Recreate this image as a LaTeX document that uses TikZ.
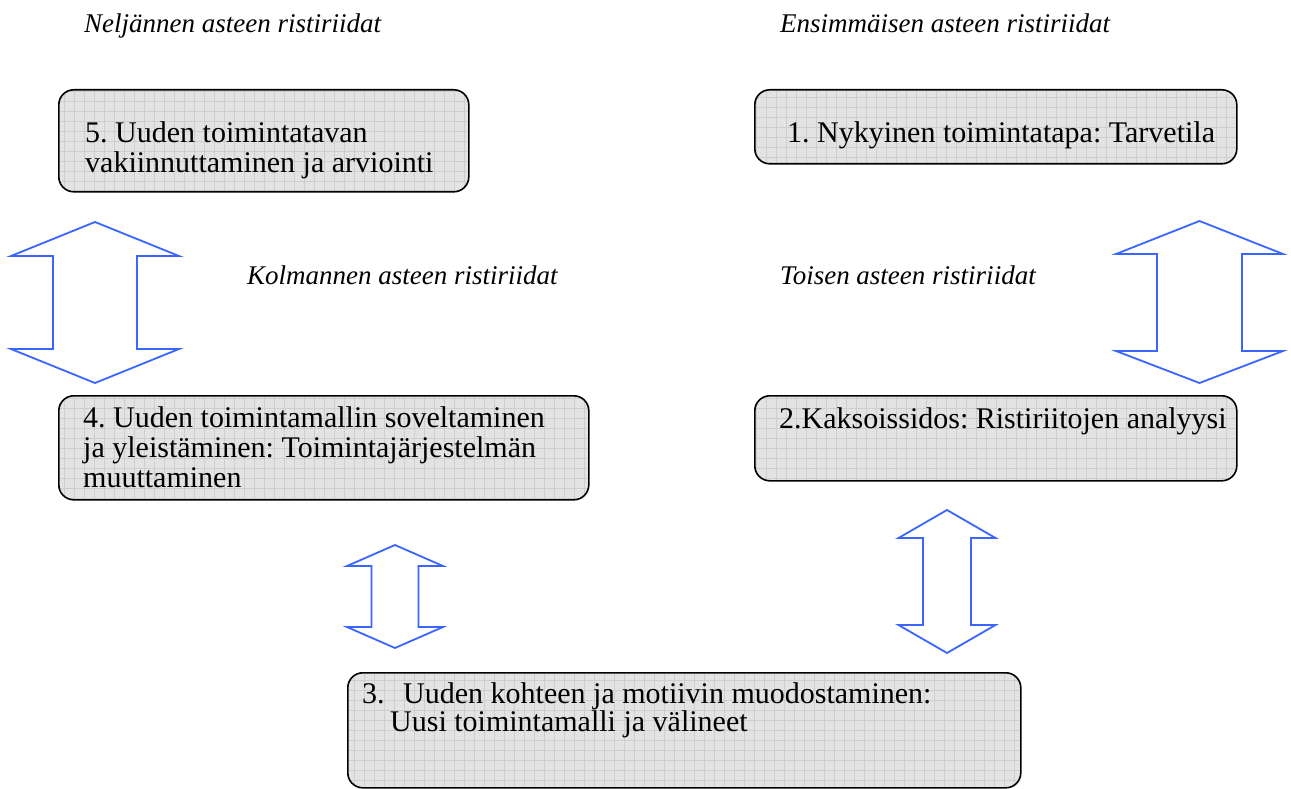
\documentclass[tikz,border=0pt]{standalone}
\usepackage{fontspec}
\setmainfont{Liberation Serif}
\frenchspacing
\definecolor{arrblue}{HTML}{3A66FF}
\definecolor{boxfill}{HTML}{E3E3E3}
\definecolor{gridline}{HTML}{CECECE}
\newcommand\dbarrow[8]{%
  \draw[arr] (#2,#3) -- (#2+#7,#4) -- (#2+#8,#4) -- (#2+#8,#5) -- (#2+#7,#5) -- (#2,#6)
    -- (#2-#7,#5) -- (#2-#8,#5) -- (#2-#8,#4) -- (#2-#7,#4) -- cycle;
  \coordinate (#1) at (#2,#3);}
\tikzset{
  box/.style={draw=black, line width=1.6pt, rounded corners=15pt, fill=boxfill, inner sep=0pt,
    anchor=north west,
    path picture={\draw[gridline, line width=0.4pt, step=10pt]
      (path picture bounding box.south west) grid (path picture bounding box.north east);}},
  btext/.style={inner sep=0pt, anchor=base west, font=\fontsize{30}{30}\selectfont},
  ltext/.style={inner sep=0pt, anchor=base west, font=\fontsize{27}{27}\selectfont\itshape},
  arr/.style={draw=arrblue, line width=1.8pt, fill=white, line join=miter},
}
\begin{document}
\begin{tikzpicture}[x=1pt,y=-1pt]
\useasboundingbox (0,0) rectangle (1291,789);
% boxes
\node[box, minimum width=410pt, minimum height=102pt] (b5) at (58,89) {};
\node[box, minimum width=482pt, minimum height=74pt] (b1) at (754,89) {};
\node[box, minimum width=530pt, minimum height=104pt] (b4) at (58,395) {};
\node[box, minimum width=482pt, minimum height=85pt] (b2) at (754,395) {};
\node[box, minimum width=673pt, minimum height=115pt] (b3) at (347,672) {};
% box texts
\node[btext] (t5a) at (85,143) {5. Uuden toimintatavan};
\node[btext] (t5b) at (85,173) {vakiinnuttaminen ja arviointi};
\node[btext] (t1) at (787,143) {1. Nykyinen toimintatapa: Tarvetila};
\node[btext] (t4a) at (83,427) {4. Uuden toimintamallin soveltaminen};
\node[btext] (t4b) at (83,457) {ja yleistäminen: Toimintajärjestelmän};
\node[btext] (t4c) at (83,487) {muuttaminen};
\node[btext] (t2) at (779,428) {2.Kaksoissidos: Ristiriitojen analyysi};
\node[btext] (t3n) at (362,703) {3.};
\node[btext] (t3a) at (403,703) {Uuden kohteen ja motiivin muodostaminen:};
\node[btext] (t3b) at (390,731) {Uusi toimintamalli ja välineet};
% labels
\node[ltext] (l4) at (84,33) {Neljännen asteen ristiriidat};
\node[ltext] (l1) at (780,33) {Ensimmäisen asteen ristiriidat};
\node[ltext] (l3) at (247,284) {Kolmannen asteen ristiriidat};
\node[ltext] (l2) at (780,284) {Toisen asteen ristiriidat};
% double arrows
\dbarrow{a45}{95}{222}{256}{349}{383}{84}{42}
\dbarrow{a12}{1199.5}{221}{254}{351}{383}{83.5}{42.5}
\dbarrow{a34}{395}{545}{566}{627}{648}{48}{23.5}
\dbarrow{a23}{947}{510}{538}{625}{653}{48.5}{24}
\end{tikzpicture}
\end{document}
